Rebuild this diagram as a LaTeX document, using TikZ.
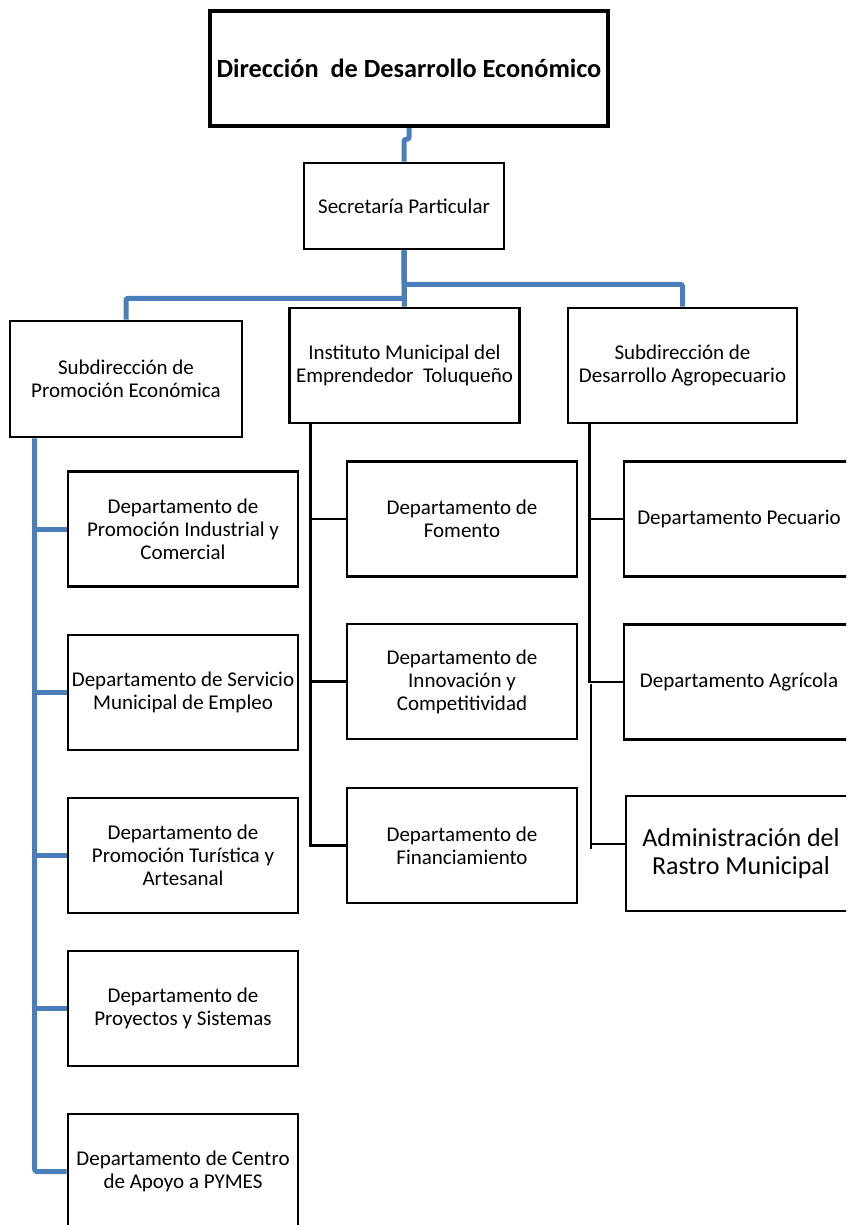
\documentclass[tikz,border=0pt]{standalone}
\usepackage{fontspec}
\setmainfont{Carlito}
\definecolor{linkblue}{RGB}{74,126,187}
\tikzset{
  unitbox/.style={draw=black, line width=2.6pt, fill=white, inner sep=0pt,
    minimum width=230pt, minimum height=115pt, align=center,
    font=\fontsize{21}{23}\selectfont},
  headbox/.style={unitbox, line width=4.5pt, minimum width=398pt,
    minimum height=115pt, font=\fontsize{26.3}{28}\selectfont\bfseries},
  bluelink/.style={draw=linkblue, line width=5pt, rounded corners=2pt, line join=round},
  blacklink/.style={draw=black, line width=2.6pt},
  thinlink/.style={draw=black, line width=1.6pt},
}
\begin{document}
\begin{tikzpicture}[x=1pt, y=-1pt]
\useasboundingbox (0,0) rectangle (846,1225);
\clip (0,0) rectangle (846,1225);

% head of the directorate and its private office
\node[headbox] (dir) at (409,68.5) {Dirección~~de Desarrollo Económico};
\node[unitbox, minimum width=200pt, minimum height=86pt] (sec) at (404,206) {Secretaría Particular};

% second level
\node[unitbox, minimum width=232pt, minimum height=116pt] (sub1) at (126,379) {Subdirección de\\Promoción Económica};
\node[unitbox] (inst) at (404.5,365.5) {Instituto Municipal del\\Emprendedor~~Toluqueño};
\node[unitbox, minimum width=229pt] (sub3) at (682.5,365.5) {Subdirección de\\Desarrollo Agropecuario};

% departments under Promoción Económica
\node[unitbox] (l1) at (183,529) {Departamento de\\Promoción Industrial y\\Comercial};
\node[unitbox] (l2) at (183,692.5) {Departamento de Servicio\\Municipal de Empleo};
\node[unitbox] (l3) at (183,855.5) {Departamento de\\Promoción Turística y\\Artesanal};
\node[unitbox] (l4) at (183,1008.5) {Departamento de\\Proyectos y Sistemas};
\node[unitbox] (l5) at (183,1171.5) {Departamento de Centro\\de Apoyo a PYMES};

% departments under the Instituto
\node[unitbox] (m1) at (462,519) {Departamento de\\Fomento};
\node[unitbox] (m2) at (462,681.5) {Departamento de\\Innovación y\\Competitividad};
\node[unitbox] (m3) at (462,845.5) {Departamento de\\Financiamiento};

% departments under Desarrollo Agropecuario
\node[unitbox] (r1) at (739,519) {Departamento Pecuario};
\node[unitbox] (r2) at (739,682) {Departamento Agrícola};
\node[unitbox, font=\fontsize{26}{28}\selectfont] (r3) at (741,853.5) {Administración del\\Rastro Municipal};

% blue links
\draw[bluelink] (dir.south) -- ++(0,11) -| (sec.north);
\draw[bluelink] (sec.south) -- (inst.north);
\draw[bluelink] (sec.south) -- ++(0,48) -| (sub1.north);
\draw[bluelink] (sec.south) -- ++(0,34) -| (sub3.north);
\coordinate (lspine) at ([xshift=26pt]sub1.south west);
\draw[bluelink] (lspine) |- (l5.west);
\foreach \n in {l1,l2,l3,l4}
  \draw[bluelink] (lspine |- \n.west) -- (\n.west);

% black links
\coordinate (mspine) at ([xshift=22pt]inst.south west);
\draw[blacklink] (mspine) |- (m3.west);
\foreach \n in {m1,m2}
  \draw[blacklink] (mspine |- \n.west) -- (\n.west);

\coordinate (rspine) at ([xshift=23pt]sub3.south west);
\draw[blacklink] (rspine) |- (r2.west);
\draw[blacklink] (rspine |- r1.west) -- (r1.west);
\coordinate (rspinelow) at ([xshift=1pt, yshift=-2pt]rspine |- r2.west);
\coordinate (rlink) at ([yshift=9.5pt]r3.west);
\draw[thinlink] (rspinelow) -- ++(0,165);
\draw[thinlink] (rspinelow |- rlink) -- (rlink);
\end{tikzpicture}
\end{document}
